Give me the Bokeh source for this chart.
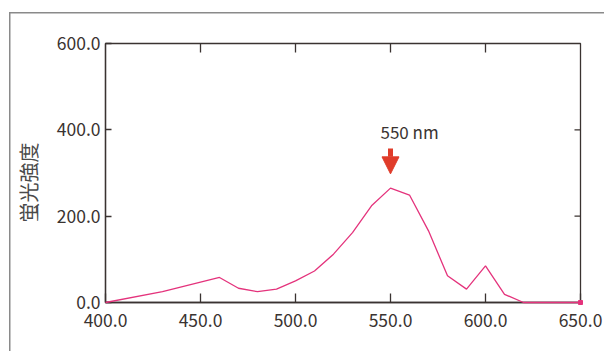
from math import pi
from bokeh.plotting import figure
from bokeh.models import (LinearAxis, FixedTicker, NumeralTickFormatter, Range1d,
                          Label, Arrow, NormalHead, Title)
from bokeh.embed import file_html
from bokeh.resources import INLINE

# data
wavelength_nm = [400, 430, 460, 470, 480, 490, 500, 510, 520, 530, 540, 550,
                 560, 570, 580, 590, 600, 610, 620, 630, 640, 650]
intensity = [0, 25, 58, 33, 25, 31, 50, 73, 112, 162, 224, 265,
             249, 166, 62, 31, 85, 19, 0, 0, 0, 0]
x_ticks = [400, 450, 500, 550, 600, 650]
y_ticks = [0, 200, 400, 600]
peak_nm = 550
peak_label = "550 nm"
y_label = "蛍光強度"

FONT = "Noto Sans CJK JP"
AX = "#3a3331"
TXT = "#3a3331"
FRAME_GRAY = "#8a8a8a"
X0, X1, Y0, Y1 = x_ticks[0], x_ticks[-1], y_ticks[0], y_ticks[-1]

# outer gray frame (top and left edges) painted as the page background of the figure
outer_styles = {
    "background-color": "white",
    "background-image": f"linear-gradient({FRAME_GRAY}, {FRAME_GRAY}), "
                        f"linear-gradient({FRAME_GRAY}, {FRAME_GRAY})",
    "background-size": "100% 1.5px, 1.5px 100%",
    "background-position": "9px 11.5px, 8.5px 12px",
    "background-repeat": "no-repeat",
}

p = figure(width=604, height=351, output_backend="svg", toolbar_location=None,
           x_range=Range1d(X0, X1), y_range=Range1d(Y0, Y1),
           min_border_left=105, min_border_right=24, min_border_top=43,
           min_border_bottom=49, x_axis_location=None, y_axis_location=None,
           styles=outer_styles)
p.grid.visible = False
p.outline_line_color = AX
p.outline_line_width = 1.3
p.background_fill_color = "white"
p.border_fill_color = None

def style(ax, ticks, tick_len, standoff):
    ax.ticker = FixedTicker(ticks=ticks)
    ax.major_tick_in = tick_len
    ax.major_tick_out = 0
    ax.minor_tick_line_color = None
    ax.axis_line_color = AX
    ax.axis_line_width = 1.3
    ax.major_tick_line_color = AX
    ax.major_tick_line_width = 1.3
    ax.formatter = NumeralTickFormatter(format="0.0")
    ax.major_label_text_font = FONT
    ax.major_label_text_color = TXT
    ax.major_label_text_font_size = "17.5px"
    ax.major_label_standoff = standoff

xb = LinearAxis(); style(xb, x_ticks, 9, 11)
yl = LinearAxis(); style(yl, y_ticks, 6, 5)
p.add_layout(xb, "below")
p.add_layout(yl, "left")
p.add_layout(Title(text=y_label, align="left", offset=80, standoff=22,
                   text_font=FONT, text_font_size="20px", text_font_style="normal",
                   text_color="#4a4a4a"), "left")

# inward ticks on top and right edges
p.ray(x=x_ticks[1:-1], y=[Y1] * (len(x_ticks) - 2), length=9, length_units="screen",
      angle=-pi / 2, line_color=AX, line_width=1.3)
p.ray(x=[X1] * (len(y_ticks) - 2), y=y_ticks[1:-1], length=6, length_units="screen",
      angle=pi, line_color=AX, line_width=1.3)

p.line(wavelength_nm, intensity, line_color="#e4337c", line_width=1.3, level="annotation")
p.scatter([wavelength_nm[-1]], [intensity[-1]], marker="square", size=4,
          fill_color="#e4337c", line_color="#e4337c", level="annotation")

p.add_layout(Arrow(x_start=peak_nm, y_start=357, x_end=peak_nm, y_end=298,
                   line_color="#e03c2a", line_width=5,
                   end=NormalHead(size=17, fill_color="#e03c2a", line_color="#e03c2a", line_width=1)))
p.add_layout(Label(x=peak_nm, y=395, text=peak_label, x_offset=-10,
                   text_align="left", text_baseline="middle",
                   text_font=FONT, text_font_size="17px", text_color=TXT))

open("out.html", "w").write(file_html(p, INLINE))
